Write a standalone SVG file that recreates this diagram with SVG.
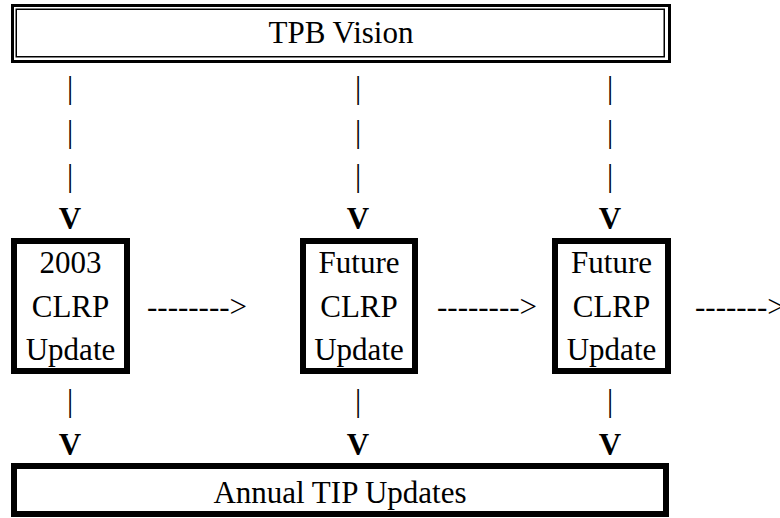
<svg xmlns="http://www.w3.org/2000/svg" width="780" height="518" viewBox="0 0 780 518">
<style>
text{font-family:'Times New Roman','Liberation Serif',Tinos,'Noto Serif','DejaVu Serif',serif;font-size:31px;fill:#000}
.c{text-anchor:middle}
.b{font-weight:bold}
.box{fill:#fff;stroke:#000;stroke-width:6}
</style>
<rect width="780" height="518" fill="#fff"/>
<g id="vision">
<rect x="12.5" y="5.5" width="657" height="56" fill="#fff" stroke="#000" stroke-width="3"/>
<rect x="16.25" y="9.25" width="648" height="47.5" fill="none" stroke="#000" stroke-width="1.5"/>
<text class="c" x="341" y="43">TPB Vision</text>
</g>
<g id="connectors">
<g class="c">
<text x="70" y="98">|</text><text x="70" y="142">|</text><text x="70" y="186">|</text><text class="b" x="70" y="229">V</text>
<text x="358" y="98">|</text><text x="358" y="142">|</text><text x="358" y="186">|</text><text class="b" x="358" y="229">V</text>
<text x="610" y="98">|</text><text x="610" y="142">|</text><text x="610" y="186">|</text><text class="b" x="610" y="229">V</text>
<text x="70" y="411">|</text><text class="b" x="70" y="455">V</text>
<text x="358" y="411">|</text><text class="b" x="358" y="455">V</text>
<text x="610" y="411">|</text><text class="b" x="610" y="455">V</text>
</g>
<text x="147" y="317">--------&gt;</text>
<text x="437" y="317">--------&gt;</text>
<text x="695" y="317">-------&gt;</text>
</g>
<g id="clrp2003">
<rect class="box" x="14" y="241" width="113" height="130"/>
<text class="c" x="70.5" y="273">2003</text>
<text class="c" x="70.5" y="317">CLRP</text>
<text class="c" x="70.5" y="360">Update</text>
</g>
<g id="future1">
<rect class="box" x="303" y="241" width="112" height="130"/>
<text class="c" x="359" y="273">Future</text>
<text class="c" x="359" y="317">CLRP</text>
<text class="c" x="359" y="360">Update</text>
</g>
<g id="future2">
<rect class="box" x="555" y="241" width="113" height="130"/>
<text class="c" x="611.5" y="273">Future</text>
<text class="c" x="611.5" y="317">CLRP</text>
<text class="c" x="611.5" y="360">Update</text>
</g>
<g id="tip">
<rect class="box" x="14" y="466" width="652" height="48"/>
<text class="c" x="340" y="503">Annual TIP Updates</text>
</g>
</svg>
